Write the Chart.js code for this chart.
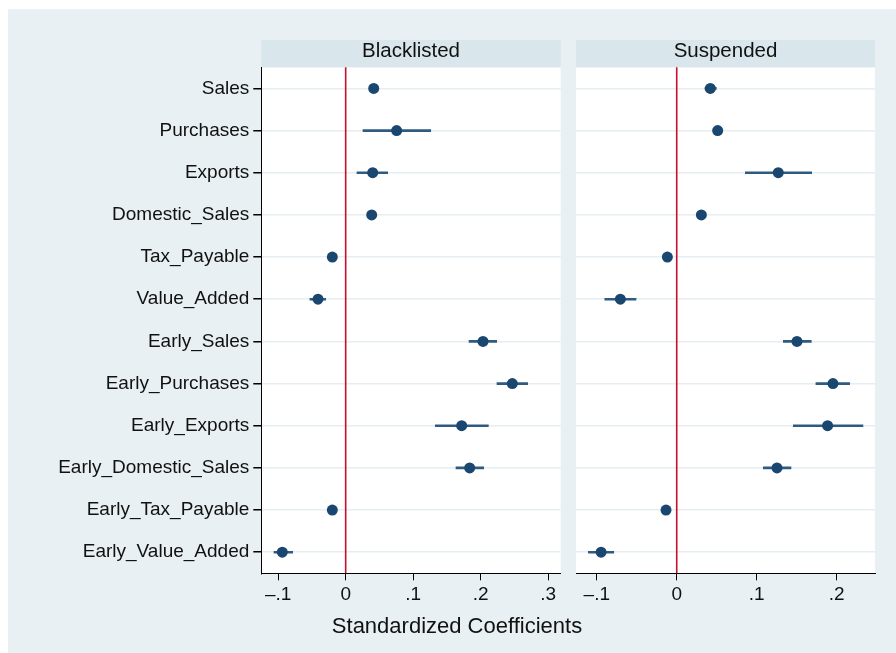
<!DOCTYPE html>
<html>
<head>
<meta charset="utf-8">
<script src="https://cdn.jsdelivr.net/npm/chart.js@4/dist/chart.umd.min.js"></script>
<style>
  html, body { margin: 0; padding: 0; background: #ffffff; }
  #wrap { position: relative; width: 896px; height: 653px; }
  #wrap canvas { position: absolute; left: 0; top: 0; }
</style>
</head>
<body>
<div id="wrap">
  <canvas id="left" width="896" height="653"></canvas>
  <canvas id="right" width="896" height="653"></canvas>
</div>
<script>
// Outcome variables (rows, top to bottom)
const categories = [
  'Sales', 'Purchases', 'Exports', 'Domestic_Sales', 'Tax_Payable', 'Value_Added',
  'Early_Sales', 'Early_Purchases', 'Early_Exports', 'Early_Domestic_Sales',
  'Early_Tax_Payable', 'Early_Value_Added'
];

// Blacklisted firms: point estimates and 95% CI bounds
const blacklistedCoef = [0.0415, 0.0755, 0.040, 0.0385, -0.0198, -0.041, 0.2034, 0.2468, 0.1718, 0.1837, -0.0198, -0.0939];
const blacklistedLow  = [0.037, 0.0256, 0.0167, 0.035, -0.023, -0.053, 0.1827, 0.2241, 0.1328, 0.1634, -0.023, -0.1062];
const blacklistedHigh = [0.046, 0.126, 0.0622, 0.042, -0.017, -0.0296, 0.2237, 0.2696, 0.2113, 0.2044, -0.017, -0.0785];

// Suspended firms: point estimates and 95% CI bounds
const suspendedCoef = [0.042, 0.0512, 0.127, 0.0308, -0.0117, -0.0705, 0.1504, 0.1954, 0.1887, 0.1254, -0.0134, -0.0946];
const suspendedLow  = [0.0354, 0.047, 0.0858, 0.027, -0.015, -0.090, 0.1333, 0.1741, 0.1458, 0.1083, -0.0165, -0.1105];
const suspendedHigh = [0.0495, 0.055, 0.1688, 0.034, -0.0085, -0.0509, 0.1683, 0.2163, 0.2329, 0.1429, -0.010, -0.0788];

const leftTicks = [-0.1, 0, 0.1, 0.2, 0.3];
const rightTicks = [-0.1, 0, 0.1, 0.2];
const panelTitles = ['Blacklisted', 'Suspended'];
const axisTitle = 'Standardized Coefficients';

const FONT = "'Liberation Sans', Arial, Helvetica, sans-serif";
const OUTER_BG = '#e8f0f3';
const STRIP_BG = '#d9e6eb';
const GRID = '#e6eef1';
const NAVY = '#1a476f';
const CI_COLOR = '#2f5a82';
const REF_RED = '#c8102e';

function fmtTick(v) {
  if (Math.abs(v) < 1e-9) return '0';
  const s = Math.abs(v).toFixed(1).replace(/^0/, '');
  return (v < 0 ? '\u2013' : '') + s;
}

function panelPlugin(title, drawOuter, drawAxisTitle) {
  return {
    id: 'panel_' + title,
    beforeDraw(chart) {
      const { ctx, chartArea: a } = chart;
      ctx.save();
      if (drawOuter) {
        ctx.fillStyle = OUTER_BG;
        ctx.fillRect(8, 9, 888, 644);
      }
      ctx.fillStyle = '#ffffff';
      ctx.fillRect(a.left, a.top, a.right - a.left, a.bottom - a.top);
      // strip header above the panel
      ctx.fillStyle = STRIP_BG;
      ctx.fillRect(a.left, 40, a.right - a.left, a.top - 40);
      ctx.fillStyle = '#111';
      ctx.font = '20.5px ' + FONT;
      ctx.textAlign = 'center';
      ctx.textBaseline = 'middle';
      ctx.fillText(title, (a.left + a.right) / 2, 51);
      if (drawAxisTitle) {
        ctx.font = '22px ' + FONT;
        ctx.fillText(axisTitle, 457, 627);
      }
      ctx.restore();
    },
    beforeDatasetsDraw(chart) {
      const { ctx, chartArea: a, scales } = chart;
      const x0 = scales.x.getPixelForValue(0);
      ctx.save();
      ctx.strokeStyle = REF_RED;
      ctx.lineWidth = 1.6;
      ctx.beginPath();
      ctx.moveTo(x0, a.top);
      ctx.lineTo(x0, a.bottom);
      ctx.stroke();
      ctx.restore();
    }
  };
}

function makePanel(canvasId, coef, low, high, xmin, xmax, ticks, padding, showY, title, outer, axisT) {
  const ci = low.map((lo, i) => [lo, high[i]]);
  return new Chart(document.getElementById(canvasId), {
    type: 'bar',
    data: {
      labels: categories,
      datasets: [
        {
          type: 'line',
          data: coef,
          showLine: false,
          pointRadius: 5.5,
          pointHoverRadius: 5.5,
          pointBackgroundColor: NAVY,
          pointBorderColor: NAVY,
          pointBorderWidth: 0,
          order: 0
        },
        {
          type: 'bar',
          data: ci,
          backgroundColor: CI_COLOR,
          borderWidth: 0,
          barThickness: 2,
          order: 1
        }
      ]
    },
    options: {
      indexAxis: 'y',
      responsive: false,
      animation: false,
      events: [],
      layout: { padding: padding },
      plugins: { legend: { display: false }, tooltip: { enabled: false } },
      scales: {
        y: {
          type: 'category',
          offset: true,
          grid: {
            offset: false,
            color: GRID,
            lineWidth: 1.5,
            drawTicks: showY,
            tickLength: 8,
            tickColor: '#000'
          },
          border: { display: showY, color: '#000', width: 1 },
          ticks: {
            display: showY,
            color: '#111',
            padding: 4,
            font: { family: FONT, size: 19 }
          },
          afterFit(s) { s.width = showY ? 261.3 : 0; }
        },
        x: {
          type: 'linear',
          min: xmin,
          max: xmax,
          grid: {
            drawOnChartArea: false,
            drawTicks: true,
            tickLength: 7,
            tickColor: '#000'
          },
          border: { display: true, color: '#000', width: 1 },
          ticks: {
            color: '#111',
            padding: 3,
            font: { family: FONT, size: 19 },
            callback: (v) => fmtTick(v)
          },
          afterBuildTicks(s) { s.ticks = ticks.map(v => ({ value: v })); },
          afterFit(s) { s.height = 79.7; }
        }
      }
    },
    plugins: [panelPlugin(title, outer, axisT)]
  });
}

makePanel('left', blacklistedCoef, blacklistedLow, blacklistedHigh, -0.125, 0.3185, leftTicks,
  { left: 0, right: 335.3, top: 67.3, bottom: 0 }, true, panelTitles[0], true, true);
makePanel('right', suspendedCoef, suspendedLow, suspendedHigh, -0.126, 0.248, rightTicks,
  { left: 576, right: 21, top: 67.3, bottom: 0 }, false, panelTitles[1], false, false);
</script>
</body>
</html>
